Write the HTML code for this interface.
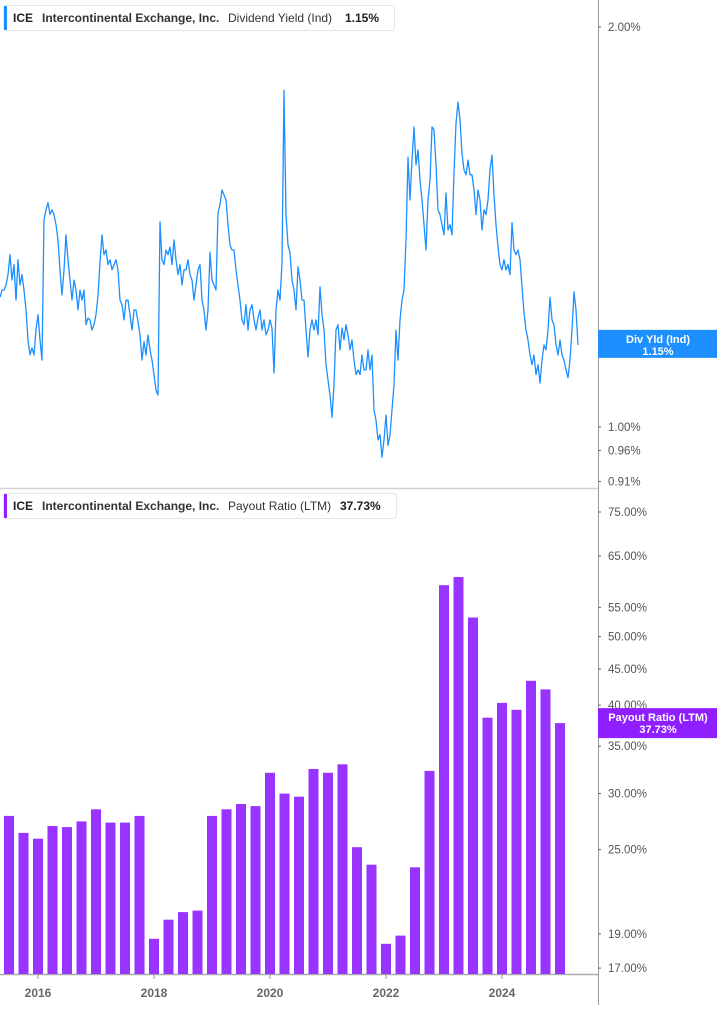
<!DOCTYPE html>
<html><head><meta charset="utf-8"><style>
html,body{margin:0;padding:0;background:#fff;}
body{width:717px;height:1005px;overflow:hidden;font-family:"Liberation Sans",sans-serif;}
svg text{font-family:"Liberation Sans",sans-serif;}
</style></head><body>
<svg id="chart" width="717" height="1005" viewBox="0 0 717 1005" xmlns="http://www.w3.org/2000/svg">
<rect x="0" y="0" width="717" height="1005" fill="#fff"/>
<line x1="0" y1="488.5" x2="598" y2="488.5" stroke="#d0d0d0" stroke-width="1.5"/>
<line x1="598.5" y1="0" x2="598.5" y2="1005" stroke="#999" stroke-width="1"/>
<line x1="0" y1="974.5" x2="598" y2="974.5" stroke="#aaa" stroke-width="1.5"/>
<g id="top-ticks"></g>
<g id="bot-ticks"></g>
<g id="x-ticks"></g>
<g id="bars"></g>
<path id="yline" fill="none" stroke="#1e8fff" stroke-width="1.3" stroke-linejoin="round"/>
<g>
<rect x="3.5" y="5.5" width="391" height="25" rx="3" fill="#fff" stroke="#e6e6e6"/>
<rect x="4" y="6" width="3" height="24" fill="#1e8fff"/>
<text x="13" y="22" font-size="12" font-weight="bold" fill="#222">ICE</text>
<text x="42" y="22" font-size="12" font-weight="bold" fill="#333">Intercontinental Exchange, Inc.</text>
<text x="228" y="22" font-size="12" fill="#333">Dividend Yield (Ind)</text>
<text x="345" y="22" font-size="12" font-weight="bold" fill="#222">1.15%</text>
</g>
<g>
<rect x="3.5" y="493.5" width="393" height="25" rx="3" fill="#fff" stroke="#e6e6e6"/>
<rect x="4" y="494" width="3" height="24" fill="#8f1fff"/>
<text x="13" y="510" font-size="12" font-weight="bold" fill="#222">ICE</text>
<text x="42" y="510" font-size="12" font-weight="bold" fill="#333">Intercontinental Exchange, Inc.</text>
<text x="228" y="510" font-size="12" fill="#333">Payout Ratio (LTM)</text>
<text x="340" y="510" font-size="12" font-weight="bold" fill="#222">37.73%</text>
</g>
<g id="ylabel"></g>
<g id="plabel"></g>
</svg>
<script>
const yieldStart = 2015.345;
const yieldStepYears = 2/58;
const yieldValues = [1.252,1.268,1.268,1.279,1.302,1.348,1.290,1.325,1.246,1.336,1.279,1.302,1.268,1.225,1.163,1.133,1.147,1.133,1.183,1.215,1.163,1.123,1.432,1.457,1.475,1.445,1.457,1.445,1.420,1.383,1.313,1.257,1.313,1.395,1.336,1.290,1.246,1.290,1.268,1.225,1.268,1.246,1.268,1.194,1.208,1.204,1.183,1.194,1.215,1.255,1.331,1.395,1.348,1.359,1.325,1.336,1.313,1.325,1.336,1.313,1.246,1.236,1.204,1.246,1.246,1.215,1.183,1.225,1.225,1.200,1.173,1.123,1.159,1.133,1.173,1.143,1.123,1.095,1.066,1.057,1.427,1.336,1.325,1.359,1.348,1.366,1.325,1.383,1.336,1.302,1.325,1.279,1.313,1.313,1.336,1.302,1.290,1.246,1.279,1.313,1.325,1.246,1.225,1.183,1.225,1.354,1.290,1.279,1.268,1.450,1.470,1.508,1.495,1.482,1.420,1.371,1.359,1.359,1.313,1.279,1.246,1.204,1.194,1.236,1.183,1.225,1.236,1.204,1.183,1.208,1.225,1.183,1.204,1.173,1.183,1.204,1.187,1.098,1.225,1.268,1.246,1.329,1.793,1.445,1.371,1.352,1.290,1.268,1.225,1.320,1.290,1.246,1.246,1.183,1.129,1.183,1.204,1.183,1.204,1.173,1.275,1.215,1.183,1.114,1.085,1.057,1.017,1.076,1.183,1.194,1.143,1.187,1.163,1.194,1.173,1.143,1.163,1.123,1.095,1.104,1.095,1.133,1.104,1.104,1.143,1.104,1.133,1.030,1.012,0.978,0.987,0.949,0.978,1.021,0.969,0.987,1.030,1.076,1.183,1.123,1.204,1.246,1.268,1.383,1.596,1.482,1.588,1.682,1.575,1.616,1.534,1.482,1.420,1.359,1.482,1.534,1.682,1.673,1.575,1.457,1.445,1.420,1.395,1.500,1.407,1.420,1.395,1.553,1.693,1.756,1.702,1.607,1.561,1.548,1.588,1.548,1.548,1.508,1.445,1.508,1.482,1.407,1.457,1.445,1.482,1.561,1.602,1.495,1.420,1.366,1.325,1.313,1.336,1.313,1.325,1.302,1.425,1.359,1.348,1.359,1.336,1.275,1.219,1.183,1.163,1.133,1.114,1.133,1.095,1.114,1.079,1.123,1.153,1.143,1.183,1.252,1.204,1.194,1.153,1.133,1.163,1.133,1.123,1.104,1.089,1.123,1.183,1.264,1.225,1.153];
const payoutDates = [2015.5,2015.75,2016,2016.25,2016.5,2016.75,2017,2017.25,2017.5,2017.75,2018,2018.25,2018.5,2018.75,2019,2019.25,2019.5,2019.75,2020,2020.25,2020.5,2020.75,2021,2021.25,2021.5,2021.75,2022,2022.25,2022.5,2022.75,2023,2023.25,2023.5,2023.75,2024,2024.25,2024.5,2024.75,2025];
const payoutValues = [27.9,26.4,25.9,27.0,26.9,27.4,28.5,27.3,27.3,27.9,18.7,19.9,20.4,20.5,27.9,28.5,29.0,28.8,32.1,30.0,29.7,32.5,32.1,33.0,25.2,23.8,18.4,18.9,23.6,32.3,59.1,60.7,53.2,38.4,40.3,39.4,43.3,42.1,37.73];
const yieldTicks = [2.00,1.00,0.96,0.91];
const payoutTicks = [75,65,55,50,45,40,35,30,25,19,17];
const xTickYears = [2016,2018,2020,2022,2024];

const NS="http://www.w3.org/2000/svg";
const xScale = yr => 38 + (yr-2016)*58;
const yTop = v => 27 + 577.1*Math.log(2/v);
const yBot = v => 512 + 307.3*Math.log(75/v);
function mk(tag, attrs, parent){const e=document.createElementNS(NS,tag);for(const k in attrs)e.setAttribute(k,attrs[k]);parent.appendChild(e);return e;}

// line
let d="";
yieldValues.forEach((v,i)=>{const x=xScale(yieldStart+i*yieldStepYears);d+=(i?"L":"M")+x.toFixed(1)+","+yTop(v).toFixed(1);});
document.getElementById("yline").setAttribute("d",d);

// bars
const bars=document.getElementById("bars");
payoutValues.forEach((v,i)=>{
  const cx=xScale(payoutDates[i]);const y=yBot(v);
  const r=mk("rect",{x:(cx-5).toFixed(1),y:y.toFixed(1),width:10,height:(974-y).toFixed(1),fill:"#9933ff"},bars);
  
  
});

// top ticks
const tt=document.getElementById("top-ticks");
yieldTicks.forEach(v=>{
  const y=yTop(v);
  const l=mk("line",{x1:598,y1:y,x2:601,y2:y,stroke:"#666"},tt);
  
  
  const t=mk("text",{x:608,y:y+4,"font-size":"11.5",fill:"#555"},tt);
  
  
  t.textContent=v.toFixed(2)+"%";
});
const bt=document.getElementById("bot-ticks");
payoutTicks.forEach(v=>{
  const y=yBot(v);
  const l=mk("line",{x1:598,y1:y,x2:601,y2:y,stroke:"#666"},bt);
  
  
  const t=mk("text",{x:608,y:y+4,"font-size":"11.5",fill:"#555"},bt);
  
  
  t.textContent=v.toFixed(2)+"%";
});
const xt=document.getElementById("x-ticks");
xTickYears.forEach(yr=>{
  const x=xScale(yr);
  const l=mk("line",{x1:x,y1:974,x2:x,y2:979,stroke:"#999"},xt);
  
  
  const t=mk("text",{x:x,y:997,"font-size":"12","font-weight":"bold",fill:"#666","text-anchor":"middle"},xt);
  
  
  t.textContent=yr;
});

// last value labels
const lastY=yieldValues[yieldValues.length-1];
const yl=document.getElementById("ylabel");
const ly=yTop(lastY);
mk("rect",{x:598,y:ly-15,width:119,height:28,fill:"#1e8fff"},yl);
let t1=mk("text",{x:658,y:ly-2,"font-size":"11","font-weight":"bold",fill:"#fff","text-anchor":"middle"},yl);t1.textContent="Div Yld (Ind)";
let t2=mk("text",{x:658,y:ly+10,"font-size":"11","font-weight":"bold",fill:"#fff","text-anchor":"middle"},yl);t2.textContent=lastY.toFixed(2)+"%";
const lastP=payoutValues[payoutValues.length-1];
const pl=document.getElementById("plabel");
const py=yBot(lastP);
mk("rect",{x:598,y:py-15,width:119,height:30,fill:"#8f1fff"},pl);
let t3=mk("text",{x:658,y:py-2,"font-size":"11","font-weight":"bold",fill:"#fff","text-anchor":"middle"},pl);t3.textContent="Payout Ratio (LTM)";
let t4=mk("text",{x:658,y:py+10,"font-size":"11","font-weight":"bold",fill:"#fff","text-anchor":"middle"},pl);t4.textContent=lastP.toFixed(2)+"%";
</script>
</body></html>
